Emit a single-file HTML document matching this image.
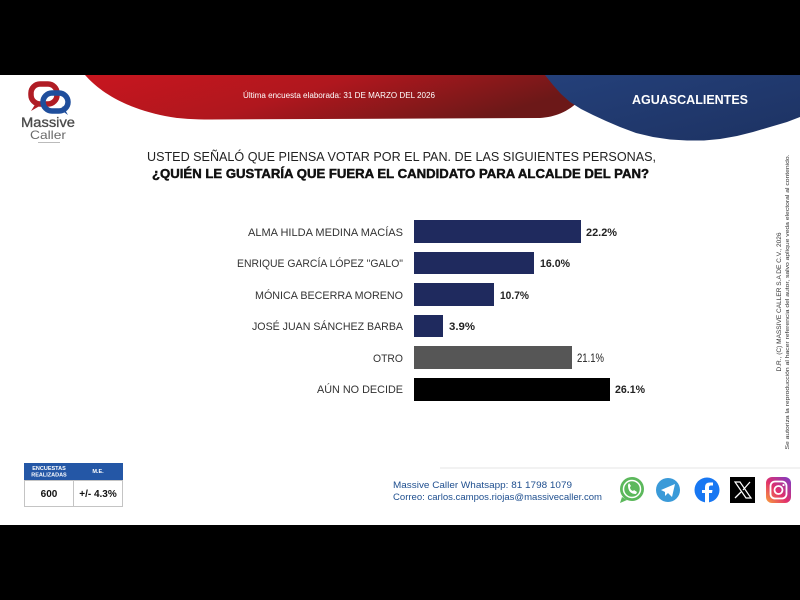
<!DOCTYPE html>
<html><head><meta charset="utf-8"><style>
html,body{margin:0;padding:0;background:#000;}
svg{display:block;}
</style></head><body>
<svg width="800" height="600" viewBox="0 0 800 600" xmlns="http://www.w3.org/2000/svg" font-family="Liberation Sans, sans-serif">
<defs>
<linearGradient id="rg" x1="0" y1="0" x2="1" y2="0.3">
<stop offset="0" stop-color="#c8161f"/>
<stop offset="0.5" stop-color="#b0171e"/>
<stop offset="1" stop-color="#6c1818"/>
</linearGradient>
<linearGradient id="bg" x1="0" y1="0" x2="1" y2="1">
<stop offset="0" stop-color="#24407a"/>
<stop offset="1" stop-color="#1d3262"/>
</linearGradient>
<linearGradient id="ig" x1="0" y1="1" x2="1" y2="0">
<stop offset="0" stop-color="#f9a23a"/>
<stop offset="0.45" stop-color="#e1306c"/>
<stop offset="1" stop-color="#7a3bc8"/>
</linearGradient>
</defs>
<rect x="0" y="0" width="800" height="600" fill="#000"/>
<rect x="0" y="75" width="800" height="450" fill="#fff"/>

<!-- red header shape -->
<path d="M85,75 C 100,92 125,108 165,116 C 180,119 195,119.5 210,119.5 L 540,118 C 555,117 568,112 580,100 L 585,75 Z" fill="url(#rg)"/>
<!-- blue header shape -->
<polygon fill="url(#bg)" points="545,75 549,80 553,85 561,94 570,102 581,109 593,115 606,121 620,127 636,133 653,137 670,139.5 687,140.5 704,140.5 720,139 737,136 753,132 770,127 787,122 800,117 800,75"/>

<text x="243" y="98" font-size="8" fill="#fff" textLength="192" lengthAdjust="spacingAndGlyphs">Última encuesta elaborada: 31 DE MARZO DEL 2026</text>
<text x="632" y="104" font-size="12.5" font-weight="bold" fill="#fff" textLength="116" lengthAdjust="spacingAndGlyphs">AGUASCALIENTES</text>

<!-- logo -->
<rect x="31" y="84" width="26" height="20" rx="9" fill="none" stroke="#b01c24" stroke-width="5.5"/>
<path d="M36,103 L31,111 L43,104 Z" fill="#b01c24"/>
<rect x="43" y="93" width="25" height="18" rx="9" fill="none" stroke="#1f4e9c" stroke-width="5.5"/>
<path d="M61,110 L68,115 L63,106 Z" fill="#1f4e9c"/>
<text x="48" y="127" font-size="13.5" fill="#4a4a4a" text-anchor="middle" stroke="#4a4a4a" stroke-width="0.3" textLength="54" lengthAdjust="spacingAndGlyphs">Massive</text>
<text x="48" y="139" font-size="12" fill="#6a6a6a" text-anchor="middle" textLength="36" lengthAdjust="spacingAndGlyphs">Caller</text>
<rect x="38" y="142" width="22" height="1" fill="#bbb"/>

<!-- title -->
<text x="147" y="161" font-size="13" fill="#222" textLength="509" lengthAdjust="spacingAndGlyphs">USTED SEÑALÓ QUE PIENSA VOTAR POR EL PAN. DE LAS SIGUIENTES PERSONAS,</text>
<text x="152" y="178" font-size="13" font-weight="bold" fill="#111" stroke="#111" stroke-width="0.45" textLength="497" lengthAdjust="spacingAndGlyphs">¿QUIÉN LE GUSTARÍA QUE FUERA EL CANDIDATO PARA ALCALDE DEL PAN?</text>

<!-- bars -->
<g font-size="11" fill="#333">
<text x="403" y="236" text-anchor="end" textLength="155" lengthAdjust="spacingAndGlyphs">ALMA HILDA MEDINA MACÍAS</text>
<text x="403" y="267" text-anchor="end" textLength="166" lengthAdjust="spacingAndGlyphs">ENRIQUE GARCÍA LÓPEZ "GALO"</text>
<text x="403" y="299" text-anchor="end" textLength="148" lengthAdjust="spacingAndGlyphs">MÓNICA BECERRA MORENO</text>
<text x="403" y="330" text-anchor="end" textLength="151" lengthAdjust="spacingAndGlyphs">JOSÉ JUAN SÁNCHEZ BARBA</text>
<text x="403" y="362" text-anchor="end" textLength="30" lengthAdjust="spacingAndGlyphs">OTRO</text>
<text x="403" y="393" text-anchor="end" textLength="86" lengthAdjust="spacingAndGlyphs">AÚN NO DECIDE</text>
</g>
<rect x="414" y="220" width="167" height="23" fill="#1f2a5e"/>
<rect x="414" y="252" width="120" height="22" fill="#1f2a5e"/>
<rect x="414" y="283" width="80" height="23" fill="#1f2a5e"/>
<rect x="414" y="315" width="29" height="22" fill="#1f2a5e"/>
<rect x="414" y="346" width="158" height="23" fill="#565656"/>
<rect x="414" y="378" width="196" height="23" fill="#000"/>
<g font-size="11" fill="#222" font-weight="bold">
<text x="586" y="236" textLength="31" lengthAdjust="spacingAndGlyphs">22.2%</text>
<text x="540" y="267" textLength="30" lengthAdjust="spacingAndGlyphs">16.0%</text>
<text x="500" y="299" textLength="29" lengthAdjust="spacingAndGlyphs">10.7%</text>
<text x="449" y="330" textLength="26" lengthAdjust="spacingAndGlyphs">3.9%</text>
<text x="577" y="362" font-size="11.5" font-weight="normal" textLength="27" lengthAdjust="spacingAndGlyphs">21.1%</text>
<text x="615" y="393" textLength="30" lengthAdjust="spacingAndGlyphs">26.1%</text>
</g>

<!-- vertical copyright -->
<text transform="translate(781,302) rotate(-90)" font-size="6.5" fill="#333" text-anchor="middle" textLength="139" lengthAdjust="spacingAndGlyphs">D.R., (C) MASSIVE CALLER S.A DE C.V., 2026</text>
<text transform="translate(789,302) rotate(-90)" font-size="5.5" fill="#333" text-anchor="middle" textLength="295" lengthAdjust="spacingAndGlyphs">Se autoriza la reproducción al hacer referencia del autor, salvo aplique veda electoral al contenido.</text>

<!-- table -->
<rect x="24.5" y="480.5" width="98" height="26" fill="#fff" stroke="#c4c4c4"/>
<line x1="73.5" y1="480" x2="73.5" y2="507" stroke="#c4c4c4"/>
<rect x="24" y="463" width="99" height="17" fill="#2457a6"/>
<text x="49" y="470" font-size="5.5" font-weight="bold" fill="#fff" text-anchor="middle">ENCUESTAS</text>
<text x="49" y="476.5" font-size="5.5" font-weight="bold" fill="#fff" text-anchor="middle">REALIZADAS</text>
<text x="98" y="473" font-size="5.5" font-weight="bold" fill="#fff" text-anchor="middle">M.E.</text>
<text x="49" y="497" font-size="10" font-weight="bold" fill="#111" text-anchor="middle">600</text>
<text x="98" y="497" font-size="10" font-weight="bold" fill="#111" text-anchor="middle">+/- 4.3%</text>

<!-- footer line -->
<line x1="440" y1="468" x2="800" y2="468" stroke="#e6e6e6" stroke-width="1"/>

<!-- contact -->
<text x="393" y="488" font-size="9" fill="#1f4f8f" textLength="179" lengthAdjust="spacingAndGlyphs">Massive Caller Whatsapp: 81 1798 1079</text>
<text x="393" y="500" font-size="9" fill="#1f4f8f" textLength="209" lengthAdjust="spacingAndGlyphs">Correo: carlos.campos.riojas@massivecaller.com</text>

<!-- icons -->
<circle cx="632" cy="489" r="12" fill="#5cb85c"/>
<path d="M622,497 L620,503 L627,500 Z" fill="#5cb85c"/>
<circle cx="632" cy="489" r="8.5" fill="none" stroke="#fff" stroke-width="1.5"/>
<path d="M628,485 Q628,494 636,494 L637,492 L634,490 L633,491 Q630,490 630,487 L631,486 L629,483 Z" fill="#fff"/>

<circle cx="668" cy="490" r="12" fill="#3a9ad8"/>
<path d="M661,490 L675,484 L672,497 L668,493 L665,496 L665,492 Z" fill="#fff"/>

<circle cx="707" cy="490" r="12.5" fill="#1877f2"/>
<path d="M709,503 L709,493 L712,493 L712.5,490 L709,490 L709,487.5 Q709,485.5 711,485.5 L713,485.5 L713,482.5 L710,482.5 Q705,482.5 705,487 L705,490 L702,490 L702,493 L705,493 L705,503 Z" fill="#fff"/>

<rect x="730" y="477" width="25" height="26" fill="#000"/>
<path d="M735,482 L740,482 L751,498 L746,498 Z" fill="none" stroke="#fff" stroke-width="1.2"/>
<line x1="750" y1="482" x2="743" y2="490" stroke="#fff" stroke-width="1.3"/>
<line x1="741" y1="492" x2="735" y2="498" stroke="#fff" stroke-width="1.3"/>

<rect x="766" y="477" width="25" height="26" rx="6" fill="url(#ig)"/>
<rect x="770.5" y="481.5" width="16" height="17" rx="4.5" fill="none" stroke="#fff" stroke-width="1.8"/>
<circle cx="778.5" cy="490" r="4" fill="none" stroke="#fff" stroke-width="1.8"/>
<circle cx="783.5" cy="485" r="1.1" fill="#fff"/>
</svg>
</body></html>
